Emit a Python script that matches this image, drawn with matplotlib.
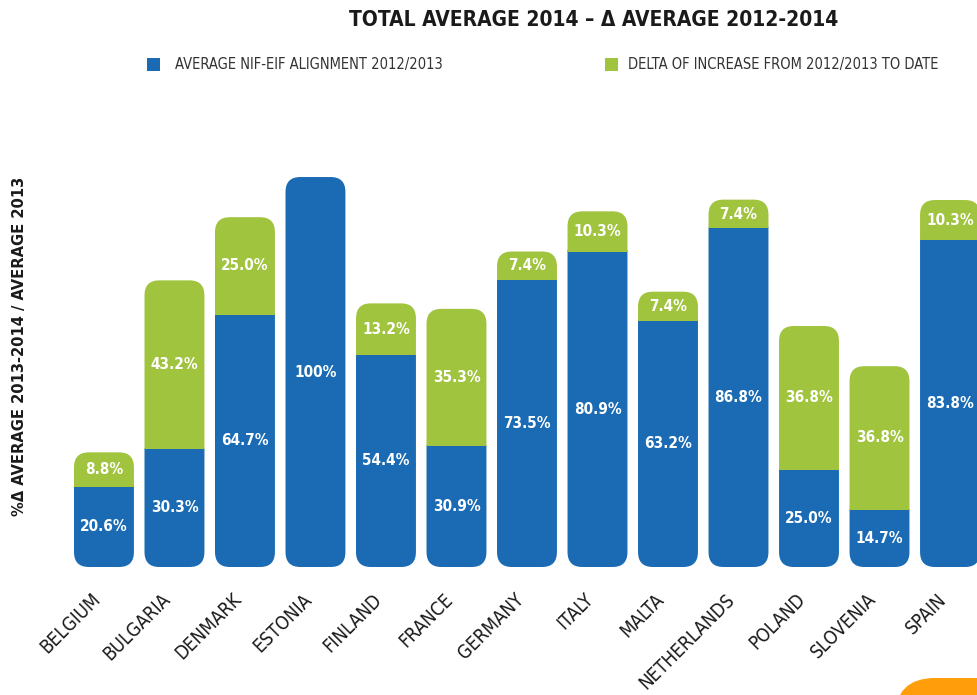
import matplotlib
matplotlib.use("Agg")
from matplotlib import pyplot as plt
from matplotlib import transforms
from matplotlib.patches import FancyBboxPatch, Rectangle

countries = ["BELGIUM", "BULGARIA", "DENMARK", "ESTONIA", "FINLAND", "FRANCE", "GERMANY",
             "ITALY", "MALTA", "NETHERLANDS", "POLAND", "SLOVENIA", "SPAIN"]
alignment = [20.6, 30.3, 64.7, 100.0, 54.4, 30.9, 73.5, 80.9, 63.2, 86.8, 25.0, 14.7, 83.8]
delta = [8.8, 43.2, 25.0, 0.0, 13.2, 35.3, 7.4, 10.3, 7.4, 7.4, 36.8, 36.8, 10.3]

BLUE = "#1b6bb4"
GREEN = "#a1c43f"
ORANGE = "#ff9e0a"

plt.rcParams["font.family"] = ["DejaVu Sans"]
plt.rcParams["font.stretch"] = "condensed"

fig = plt.figure(figsize=(9.78, 6.95), dpi=100)
ax = fig.add_axes([68 / 978, 128 / 695, 1 - 68 / 978, 397 / 695])
ax.set_xlim(-0.51, 12.397)
ax.set_ylim(0, 101.8)

width = 0.85
r = 0.21          # corner radius, x units
aspect = 18.3     # y units per x unit on screen
style = f"round,pad=0,rounding_size={r}"

x = list(range(len(countries)))
bars_b = ax.bar(x, alignment, width, color="none")
bars_g = ax.bar(x, delta, width, bottom=alignment, color="none")

for bb, a, d in zip(bars_b, alignment, delta):
    x0 = bb.get_x()
    xc = x0 + width / 2
    # same rounded shape for both colours, split by clipping
    blue = FancyBboxPatch((x0, 0), width, a + d, boxstyle=style,
                          mutation_aspect=aspect, fc=BLUE, ec="none")
    ax.add_patch(blue)
    if d > 0:
        clip_b = Rectangle((x0 - 0.1, -1), width + 0.2, a + 1.3, transform=ax.transData)
        blue.set_clip_path(clip_b)
        green = FancyBboxPatch((x0, 0), width, a + d, boxstyle=style,
                               mutation_aspect=aspect, fc=GREEN, ec="none")
        ax.add_patch(green)
        clip_g = Rectangle((x0 - 0.1, a), width + 0.2, d + 5, transform=ax.transData)
        green.set_clip_path(clip_g)
        ax.text(xc, a + d / 2, f"{d:.1f}%", color="white", fontsize=11,
                fontweight="bold", ha="center", va="center")
    lab = "100%" if a == 100 else f"{a:.1f}%"
    ax.text(xc, a / 2, lab, color="white", fontsize=11, fontweight="bold",
            ha="center", va="center")

ax.set_xticks(x)
ax.set_xticklabels(countries, rotation=45, ha="right", va="baseline",
                   rotation_mode="anchor", fontsize=13.5, color="#1a1a1a")
ax.tick_params(axis="x", length=0, pad=24)
shift = transforms.ScaledTranslation(-2 / 72, 0, fig.dpi_scale_trans)
for t in ax.get_xticklabels():
    t.set_transform(t.get_transform() + shift)
ax.set_yticks([])
for s in ax.spines.values():
    s.set_visible(False)

fig.text(20 / 978, 1 - 346 / 695, "%\u0394 AVERAGE 2013-2014 / AVERAGE 2013", rotation=90,
         ha="center", va="center", fontsize=11.8, fontweight="bold", color="#1a1a1a")

fig.text(594 / 978, 1 - 20 / 695, "TOTAL AVERAGE 2014 \u2013 \u0394 AVERAGE 2012-2014",
         ha="center", va="center", fontsize=15, fontweight="bold", color="#1a1a1a")

# legend
fig.patches.append(Rectangle((147 / 978, 1 - 71 / 695), 13 / 978, 13 / 695,
                             transform=fig.transFigure, fc=BLUE, ec="none"))
fig.text(175 / 978, 1 - 65 / 695, "AVERAGE NIF-EIF ALIGNMENT 2012/2013",
         ha="left", va="center", fontsize=10.5, color="#333333")
fig.patches.append(Rectangle((605 / 978, 1 - 71 / 695), 13 / 978, 13 / 695,
                             transform=fig.transFigure, fc=GREEN, ec="none"))
fig.text(628 / 978, 1 - 65 / 695, "DELTA OF INCREASE FROM 2012/2013 TO DATE",
         ha="left", va="center", fontsize=10.5, color="#333333")

# orange corner shape
fig.patches.append(FancyBboxPatch((895 / 978, -0.1), 0.2, 17 / 695 + 0.1,
                                  boxstyle="round,pad=0,rounding_size=0.041",
                                  mutation_aspect=1.407, transform=fig.transFigure,
                                  fc=ORANGE, ec="none"))

fig.savefig("out.png", dpi=100)
